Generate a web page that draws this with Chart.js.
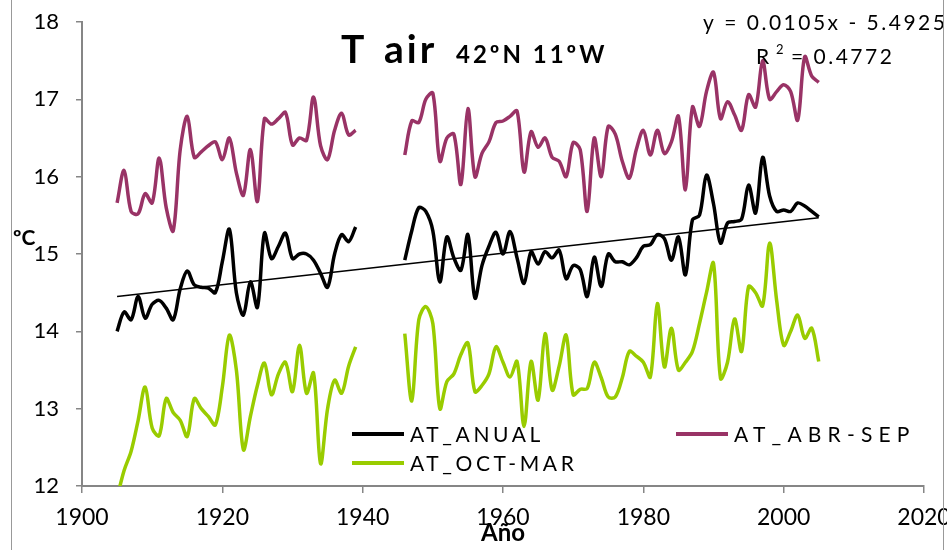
<!DOCTYPE html>
<html><head><meta charset="utf-8">
<script src="https://cdn.jsdelivr.net/npm/chart.js@4.4.0/dist/chart.umd.min.js"></script>
<style>
html,body{margin:0;padding:0;background:#fff;overflow:hidden;width:947px;height:550px}
#wrap{position:absolute;left:0;top:0;width:980px;height:550px}
</style></head><body>
<div id="wrap"><canvas id="c" width="980" height="550"></canvas></div>
<script>
// ---- data ----
const yearsA = Array.from({length: 35}, (_, i) => 1905 + i);   // 1905..1939
const yearsB = Array.from({length: 60}, (_, i) => 1946 + i);   // 1946..2005
const xTicks = [1900, 1920, 1940, 1960, 1980, 2000, 2020];
const yTicks = [12, 13, 14, 15, 16, 17, 18];

const anualA = [14.0,14.25,14.15,14.45,14.17,14.35,14.4,14.3,14.15,14.55,14.78,14.6,14.57,14.56,14.5,14.9,15.32,14.5,14.21,14.64,14.31,15.27,14.94,15.1,15.27,14.94,15.0,15.0,14.92,14.75,14.57,15.0,15.25,15.16,15.35];
const anualB = [14.92,15.3,15.6,15.55,15.3,14.64,15.22,14.95,14.79,15.25,14.43,14.85,15.1,15.28,15.0,15.29,14.95,14.62,15.03,14.87,15.03,14.95,15.05,14.68,14.85,14.8,14.45,14.96,14.58,15.0,14.9,14.9,14.86,14.95,15.1,15.12,15.25,15.2,14.92,15.22,14.73,15.44,15.5,16.02,15.65,15.14,15.4,15.42,15.45,15.89,15.53,16.25,15.75,15.55,15.57,15.55,15.66,15.62,15.55,15.48];

const abrSepA = [15.66,16.08,15.55,15.52,15.78,15.66,16.24,15.6,15.3,16.35,16.78,16.25,16.32,16.4,16.45,16.22,16.5,16.05,15.76,16.35,15.68,16.75,16.68,16.75,16.83,16.41,16.5,16.47,17.03,16.4,16.22,16.6,16.82,16.54,16.6];
const abrSepB = [16.28,16.72,16.7,17.0,17.08,16.2,16.5,16.55,15.9,16.88,16.0,16.3,16.45,16.7,16.72,16.78,16.85,16.06,16.58,16.38,16.5,16.25,16.2,16.0,16.44,16.35,15.55,16.5,16.0,16.65,16.55,16.2,15.98,16.35,16.6,16.28,16.6,16.3,16.45,16.78,15.83,16.9,16.65,17.1,17.35,16.75,16.97,16.8,16.6,17.06,16.9,17.5,17.0,17.1,17.19,17.1,16.73,17.55,17.3,17.22];

const octMarA = [11.85,12.2,12.45,12.85,13.28,12.75,12.65,13.13,12.95,12.85,12.64,13.13,13.0,12.9,12.79,13.28,13.95,13.5,12.47,12.9,13.3,13.59,13.18,13.45,13.6,13.22,13.82,13.2,13.46,12.29,13.0,13.37,13.2,13.55,13.8];
const octMarB = [13.97,13.1,14.15,14.32,14.1,13.0,13.35,13.45,13.7,13.85,13.22,13.3,13.45,13.8,13.6,13.41,13.61,12.77,13.61,13.11,13.97,13.24,13.55,13.95,13.18,13.25,13.26,13.6,13.4,13.15,13.15,13.4,13.74,13.68,13.6,13.41,14.36,13.54,14.04,13.5,13.6,13.74,14.1,14.5,14.88,13.39,13.6,14.16,13.74,14.58,14.5,14.33,15.14,14.4,13.82,14.0,14.21,13.91,14.04,13.61];

const trendYears = [1905, 2005];
const trendValues = [14.45, 15.47];

const seriesNames = ['AT_ANUAL', 'AT_ABR-SEP', 'AT_OCT-MAR'];
const eqText = 'y = 0.0105x - 5.4925';
const r2Value = '0.4772';

// ---- build ----
function pts(a, b) {
  const out = yearsA.map((yr, i) => ({x: yr, y: a[i]}));
  out.push({x: 1942, y: null});
  return out.concat(yearsB.map((yr, i) => ({x: yr, y: b[i]})));
}
const PURPLE = '#993366', GREEN = '#99CC00', AXIS = '#868686';
const FONT = 'Lato, "Open Sans", sans-serif';

const textPlugin = {
  id: 'texts',
  afterDraw(chart) {
    const ctx = chart.ctx;
    ctx.save();
    ctx.fillStyle = '#000';
    ctx.textBaseline = 'alphabetic';
    ctx.textAlign = 'left';
    // title
    ctx.font = 'bold 39px ' + FONT;
    ctx.fillText('T', 341, 63);
    ctx.letterSpacing = '3px';
    ctx.fillText('air', 384, 63);
    ctx.font = 'bold 24px ' + FONT;
    ctx.letterSpacing = '3px';
    ctx.fillText('42ºN 11ºW', 456, 63);
    // equation
    ctx.font = '21px ' + FONT;
    ctx.letterSpacing = '2.5px';
    ctx.fillText(eqText, 703, 30);
    ctx.fillText('R', 756, 64);
    ctx.font = '13px ' + FONT;
    ctx.fillText('2', 776, 54);
    ctx.font = '21px ' + FONT;
    ctx.fillText('= ' + r2Value, 791, 64);
    // axis titles
    ctx.letterSpacing = '0px';
    ctx.font = 'bold 21px ' + FONT;
    ctx.textBaseline = 'middle';
    ctx.fillText('ºC', 13, 238);
    ctx.font = 'bold 24px ' + FONT;
    ctx.textAlign = 'center';
    ctx.fillText('Año', 503, 533);
    // legend
    const leg = [
      [seriesNames[0], '#000', 352, 434, 3.6],
      [seriesNames[1], PURPLE, 676, 434, 6.2],
      [seriesNames[2], GREEN, 352, 463, 3.6]
    ];
    ctx.textAlign = 'left';
    ctx.font = '21px ' + FONT;
    leg.forEach(([t, c, x, y, ls]) => {
      ctx.strokeStyle = c; ctx.lineWidth = 4;
      ctx.beginPath(); ctx.moveTo(x, y); ctx.lineTo(x + 52, y); ctx.stroke();
      ctx.fillStyle = '#000';
      ctx.letterSpacing = ls + 'px';
      ctx.fillText(t, x + 58, y + 1);
    });
    // chart-area border lines
    ctx.letterSpacing = '0px';
    ctx.strokeStyle = '#999'; ctx.lineWidth = 1;
    ctx.beginPath(); ctx.moveTo(11.5, 0); ctx.lineTo(11.5, 550); ctx.stroke();
    ctx.beginPath(); ctx.moveTo(943.5, 0); ctx.lineTo(943.5, 550); ctx.stroke();
    ctx.restore();
  }
};

new Chart(document.getElementById('c'), {
  type: 'line',
  data: {
    datasets: [
      {label: seriesNames[1], data: pts(abrSepA, abrSepB), borderColor: PURPLE, borderWidth: 3.5, tension: 0.33, pointRadius: 0, spanGaps: false, fill: false},
      {label: seriesNames[2], data: pts(octMarA, octMarB), borderColor: GREEN, borderWidth: 3.5, tension: 0.33, pointRadius: 0, spanGaps: false, fill: false},
      {label: seriesNames[0], data: pts(anualA, anualB), borderColor: '#000', borderWidth: 3.5, tension: 0.33, pointRadius: 0, spanGaps: false, fill: false},
      {label: 'trend', data: trendYears.map((yr, i) => ({x: yr, y: trendValues[i]})), borderColor: '#000', borderWidth: 1.5, tension: 0, pointRadius: 0, fill: false}
    ]
  },
  options: {
    responsive: false,
    animation: false,
    devicePixelRatio: 1,
    layout: {padding: {top: 22, right: 56, bottom: 0, left: 0}},
    plugins: {legend: {display: false}, title: {display: false}, tooltip: {enabled: false}},
    scales: {
      x: {
        type: 'linear', min: xTicks[0], max: xTicks[xTicks.length - 1],
        afterBuildTicks: s => { s.ticks = xTicks.map(v => ({value: v})); },
        afterFit: s => { s.height = 64; },
        ticks: {color: '#000', font: {family: FONT, size: 23}, padding: 11, maxRotation: 0, callback: v => String(v)},
        grid: {drawOnChartArea: false, drawTicks: true, tickLength: 7, color: AXIS, lineWidth: 1.5},
        border: {display: true, color: AXIS, width: 2}
      },
      y: {
        min: yTicks[0], max: yTicks[yTicks.length - 1],
        afterBuildTicks: s => { s.ticks = yTicks.map(v => ({value: v})); },
        afterFit: s => { s.width = 82; s.paddingTop = 0; s.paddingBottom = 0; },
        ticks: {color: '#000', font: {family: FONT, size: 22, lineHeight: 0.5}, padding: 17},
        grid: {drawOnChartArea: false, drawTicks: true, tickLength: 6, color: AXIS, lineWidth: 1.5},
        border: {display: true, color: AXIS, width: 2}
      }
    }
  },
  plugins: [textPlugin]
});
</script>
</body></html>
